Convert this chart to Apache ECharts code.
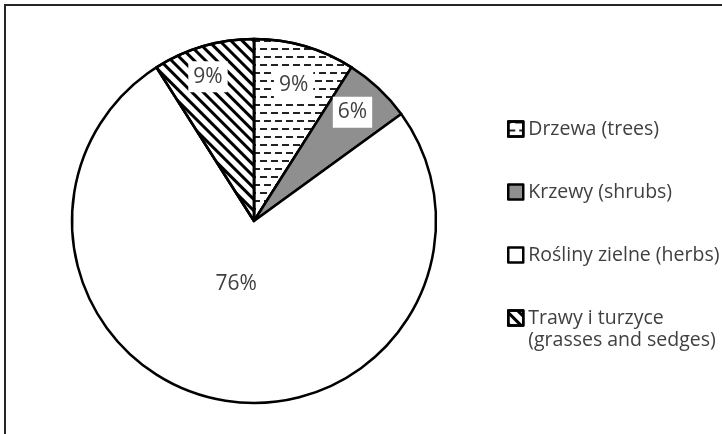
<!DOCTYPE html>
<html>
<head>
<meta charset="utf-8">
<script src="https://cdn.jsdelivr.net/npm/echarts@6/dist/echarts.min.js"></script>
<style>
html,body{margin:0;padding:0;background:#fff;}
#wrap{position:absolute;left:0;top:0;width:722px;height:434px;overflow:hidden;}
#frame{position:absolute;left:4px;top:4px;width:900px;height:900px;border-left:2px solid #262626;border-top:2px solid #262626;box-sizing:border-box;}
#chart{position:absolute;left:0;top:0;width:722px;height:434px;}
</style>
</head>
<body>
<div id="wrap"><div id="frame"></div><div id="chart"></div></div>
<script>
const categories = ['Drzewa (trees)', 'Krzewy (shrubs)', 'Rośliny zielne (herbs)', 'Trawy i turzyce (grasses and sedges)'];
const values = [9, 6, 76, 9];
const legendLabels = ['Drzewa (trees)', 'Krzewy (shrubs)', 'Rośliny zielne (herbs)', 'Trawy i turzyce\n(grasses and sedges)'];

const FONT = 'Open Sans';
const TEXT = '#404040';
// label placement relative to the default inside position: radial factor and angular nudge (deg)
const labelRadial = [1.51, 1.56, 0.70, 1.61];
const labelNudge = [0, -1, 5, -1.5];

const styles = [
  { color: '#ffffff', decal: { symbol: 'rect', color: '#222', dashArrayX: [[7, 4], [3, 4, 4, 0]], dashArrayY: [2, 5.5], symbolSize: 1, rotation: 0 } },
  { color: '#8f8f8f' },
  { color: '#ffffff' },
  { color: '#ffffff', decal: { symbol: 'rect', color: '#000', dashArrayX: [1, 0], dashArrayY: [3, 5], symbolSize: 1, rotation: Math.PI / 4 } }
];

const data = categories.map((n, i) => ({
  name: n,
  value: values[i],
  itemStyle: Object.assign({ borderColor: '#000', borderWidth: 2.5 }, styles[i])
}));

const legendText = { fontFamily: FONT, fontSize: 19.5, color: TEXT, lineHeight: 22 };
const legendFormatter = function (name) { return legendLabels[categories.indexOf(name)]; };

const CX = 254, CY = 221;
const chart = echarts.init(document.getElementById('chart'), null, { renderer: 'canvas' });
chart.setOption({
  animation: false,
  backgroundColor: 'transparent',
  legend: [{
    orient: 'vertical',
    left: 507,
    top: 118,
    padding: 0,
    itemGap: 41,
    itemWidth: 15,
    itemHeight: 15,
    icon: 'rect',
    itemStyle: { borderColor: '#000', borderWidth: 2.5 },
    textStyle: legendText,
    formatter: legendFormatter,
    data: categories.slice(0, 3)
  }, {
    orient: 'vertical',
    left: 507,
    top: 307,
    padding: 0,
    itemWidth: 15,
    itemHeight: 37,
    itemStyle: { borderColor: '#000', borderWidth: 2.5 },
    textStyle: legendText,
    formatter: legendFormatter,
    data: [{ name: categories[3], icon: 'path://M0,0L15,0L15,15L0,15ZM0,37' }]
  }],
  series: [{
    type: 'pie',
    center: [CX, CY],
    radius: 182,
    startAngle: 90,
    clockwise: true,
    silent: true,
    label: {
      show: true,
      position: 'inside',
      formatter: '{d}%',
      fontFamily: FONT,
      fontSize: 21,
      color: TEXT,
      backgroundColor: '#fff',
      padding: [5, 5]
    },
    labelLine: { show: false },
    labelLayout: function (p) {
      const r = p.labelRect;
      const vx = r.x + r.width / 2 - CX, vy = r.y + r.height / 2 - CY;
      const f = labelRadial[p.dataIndex];
      const a = labelNudge[p.dataIndex] * Math.PI / 180;
      const nx = f * (vx * Math.cos(a) - vy * Math.sin(a));
      const ny = f * (vx * Math.sin(a) + vy * Math.cos(a));
      return { dx: nx - vx, dy: ny - vy };
    },
    data: data
  }]
});
</script>
</body>
</html>
